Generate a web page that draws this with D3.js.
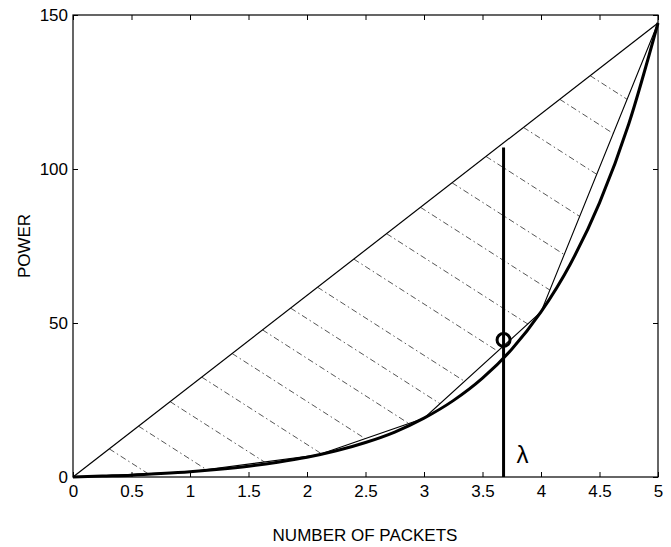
<!DOCTYPE html>
<html>
<head>
<meta charset="utf-8">
<script src="https://cdn.jsdelivr.net/npm/d3@7"></script>
<style>
  body { margin: 0; background: #fff; }
  svg { display: block; }
  text { font-family: "Liberation Sans", Arial, sans-serif; fill: #000; }
</style>
</head>
<body>
<div id="chart"></div>
<script>
// power curve (number of packets -> power)
const curveX = [0, 0.25, 0.5, 0.75, 1, 1.25, 1.5, 1.75, 2, 2.25, 2.5, 2.75, 3, 3.25, 3.5, 3.75, 4, 4.25, 4.5, 4.75, 5];
const curveY = [0, 0.3, 0.6, 1.1, 1.7, 2.5, 3.5, 4.8, 6.4, 8.5, 11.2, 14.6, 19.1, 24.8, 32.1, 41.5, 53.6, 69.1, 89.0, 114.6, 147.4];

// piecewise linear chord
const chordX = [0, 1, 2.1, 3, 4, 5];
const chordY = [0, 1.7, 7.2, 19.1, 53.6, 147.4];

// straight line from origin to the end point
const lineX = [0, 5];
const lineY = [0, 147.4];

// lambda marker
const lambdaX = 3.68;
const lambdaTop = 107;
const pointY = 44.5;

// hatching: where each hatch line leaves the straight line, and its slope
const hatchStarts = [0.31, 0.56, 0.83, 1.1, 1.36, 1.62, 1.86, 2.09, 2.4, 2.68, 2.97, 3.24, 3.53, 3.85, 4.16, 4.42];
const hatchSlope = -24.3;

const xTicks = [0, 0.5, 1, 1.5, 2, 2.5, 3, 3.5, 4, 4.5, 5];
const yTicks = [0, 50, 100, 150];

const width = 671, height = 547;
const margin = { top: 15, right: 13, bottom: 70, left: 73 };

const svg = d3.select("#chart")
  .append("svg")
  .attr("width", width)
  .attr("height", height);

const x = d3.scaleLinear().domain([0, 5]).range([margin.left, width - margin.right]);
const y = d3.scaleLinear().domain([0, 150]).range([height - margin.bottom, margin.top]);

// axes, ticks pointing inwards
const fmt = d => d3.format("")(d);
svg.append("g")
  .attr("transform", `translate(0,${y(0)})`)
  .call(d3.axisBottom(x).tickValues(xTicks).tickSize(-5).tickPadding(8).tickFormat(fmt));
svg.append("g")
  .attr("transform", `translate(${x(0)},0)`)
  .call(d3.axisLeft(y).tickValues(yTicks).tickSize(-5).tickPadding(5));
svg.append("g")
  .attr("transform", `translate(0,${y(150)})`)
  .call(d3.axisTop(x).tickValues(xTicks).tickSize(-5).tickFormat(""));
svg.append("g")
  .attr("transform", `translate(${x(5)},0)`)
  .call(d3.axisRight(y).tickValues(yTicks).tickSize(-5).tickFormat(""));

svg.selectAll(".domain").remove();
svg.selectAll(".tick line").attr("stroke", "#000").attr("stroke-width", 1);
svg.selectAll(".tick text")
  .attr("font-size", "17px")
  .attr("fill", "#000");

svg.append("rect")
  .attr("x", x(0))
  .attr("y", y(150))
  .attr("width", x(5) - x(0))
  .attr("height", y(0) - y(150))
  .attr("fill", "none")
  .attr("stroke", "#000")
  .attr("stroke-width", 1.2);

// clip region between the straight line and the chord
const regionPts = lineX.map((d, i) => [x(d), y(lineY[i])])
  .concat(chordX.map((d, i) => [x(d), y(chordY[i])]).reverse());
svg.append("clipPath")
  .attr("id", "hatch-clip")
  .append("polygon")
  .attr("points", regionPts.map(p => p.join(",")).join(" "));

const slopeMain = lineY[1] / lineX[1];
svg.append("g")
  .attr("clip-path", "url(#hatch-clip)")
  .selectAll("line")
  .data(hatchStarts)
  .join("line")
  .attr("x1", d => x(d))
  .attr("y1", d => y(slopeMain * d))
  .attr("x2", d => x(d + 3))
  .attr("y2", d => y(slopeMain * d + hatchSlope * 3))
  .attr("stroke", "#444")
  .attr("stroke-width", 0.9)
  .attr("stroke-dasharray", "6,3,1.5,3");

const lineGen = d3.line().x(d => x(d[0])).y(d => y(d[1]));

// straight line
svg.append("path")
  .datum(lineX.map((d, i) => [d, lineY[i]]))
  .attr("d", lineGen)
  .attr("fill", "none")
  .attr("stroke", "#000")
  .attr("stroke-width", 1.2);

// chord
svg.append("path")
  .datum(chordX.map((d, i) => [d, chordY[i]]))
  .attr("d", lineGen)
  .attr("fill", "none")
  .attr("stroke", "#000")
  .attr("stroke-width", 1.1);

// power curve (thick)
svg.append("path")
  .datum(curveX.map((d, i) => [d, curveY[i]]))
  .attr("d", lineGen.curve(d3.curveMonotoneX))
  .attr("fill", "none")
  .attr("stroke", "#000")
  .attr("stroke-width", 3);

// lambda line and marker
svg.append("line")
  .attr("x1", x(lambdaX))
  .attr("x2", x(lambdaX))
  .attr("y1", y(0))
  .attr("y2", y(lambdaTop))
  .attr("stroke", "#000")
  .attr("stroke-width", 3);

svg.append("circle")
  .attr("cx", x(lambdaX))
  .attr("cy", y(pointY))
  .attr("r", 6.5)
  .attr("fill", "none")
  .attr("stroke", "#000")
  .attr("stroke-width", 3);

svg.append("text")
  .attr("x", x(lambdaX) + 13)
  .attr("y", y(0) - 14)
  .attr("font-size", "24px")
  .text("λ");

// axis labels
svg.append("text")
  .attr("x", 365)
  .attr("y", 541)
  .attr("text-anchor", "middle")
  .attr("font-size", "17px")
  .text("NUMBER OF PACKETS");

svg.append("text")
  .attr("transform", "translate(30,246) rotate(-90)")
  .attr("text-anchor", "middle")
  .attr("font-size", "17px")
  .text("POWER");
</script>
</body>
</html>
